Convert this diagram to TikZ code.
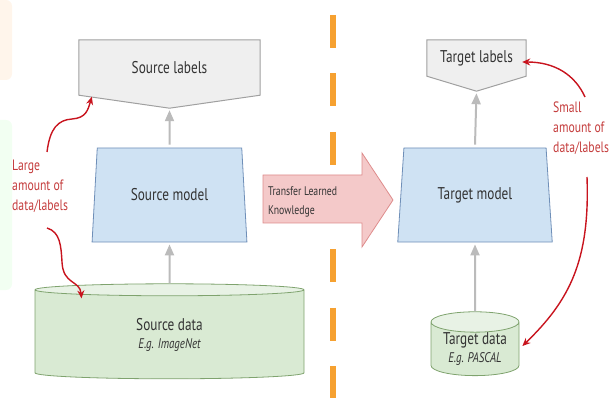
\documentclass[tikz,border=0pt]{standalone}
\usepackage{fontspec}
\setmainfont{PT Sans}[FakeStretch=0.78]
\usetikzlibrary{arrows.meta, shapes.geometric, calc, backgrounds, positioning}

\definecolor{txtdark}{HTML}{333333}
\definecolor{lblfill}{HTML}{EFEFEF}
\definecolor{lbldraw}{HTML}{A0A0A0}
\definecolor{mdlfill}{HTML}{CFE2F3}
\definecolor{mdldraw}{HTML}{6F8FB8}
\definecolor{datfill}{HTML}{D9EAD3}
\definecolor{datdraw}{HTML}{7FA36E}
\definecolor{feedgray}{HTML}{BBBBBB}
\definecolor{notered}{HTML}{C43C3C}
\definecolor{arrowred}{HTML}{C8141E}
\definecolor{xferfill}{HTML}{F4C9C9}
\definecolor{xferdraw}{HTML}{DE8C8C}
\definecolor{divorange}{HTML}{F6A131}

\begin{document}
\begin{tikzpicture}[x=1pt, y=-1pt, font=\fontsize{17}{20}\selectfont,
  lblnode/.style={inner sep=0pt, text=txtdark},
  lblshape/.style={fill=lblfill, draw=lbldraw, line width=1pt},
  mdlbox/.style={trapezium, trapezium left angle=81, trapezium right angle=81, trapezium stretches=true,
    fill=mdlfill, draw=mdldraw, line width=0.8pt, minimum width=155, minimum height=94, text=txtdark},
  datbox/.style={cylinder, shape border rotate=90, cylinder uses custom fill,
    cylinder body fill=datfill, cylinder end fill=datfill!60!white,
    draw=datdraw, line width=0.8pt, align=center, text=txtdark, inner sep=0pt},
  feed/.style={draw=feedgray, line width=2pt, -{Triangle[length=11pt,width=9pt]}, shorten >=2pt},
  note/.style={text=notered, align=left, font=\fontsize{15}{20}\selectfont, inner sep=0pt, anchor=north west},
  noteline/.style={draw=arrowred, line width=1.4pt, -{Stealth[length=8pt,width=7pt]}},
  divline/.style={draw=divorange, line width=6pt, dash pattern=on 33pt off 25.5pt},
  xfershape/.style={fill=xferfill, draw=xferdraw, line width=0.8pt, line join=miter},
  xfertext/.style={inner sep=0pt, anchor=west, align=left, text=txtdark, font=\fontsize{12.5}{19}\selectfont}
]
\useasboundingbox (0,0) rectangle (613,398);

% faint tabs on the left edge
\fill[rounded corners=6pt, color=orange!8] (-20,0) rectangle (12,80);
\fill[rounded corners=6pt, color=green!5] (-20,120) rectangle (12,290);

% divider between the two tasks
\coordinate (divtop) at (333,15);
\coordinate (divbot) at (333,398);
\draw[divline] (divtop) -- (divbot);

% source side
\node[lblnode, minimum width=181, minimum height=55] (srclbl) at (169.5,67.5) {Source labels};
\node[mdlbox] (srcmdl) at (169.5,195) {Source model};
\node[datbox, minimum width=269, minimum height=95, aspect=0.18] (srcdat) at (169.5,334.5)
  {Source data\\[-2pt]{\itshape\fontsize{14}{16}\selectfont E.g. ImageNet}};

% target side
\node[lblnode, minimum width=99, minimum height=36] (tgtlbl) at (476.5,58) {Target labels};
\node[mdlbox] (tgtmdl) at (475,195) {Target model};
\node[datbox, minimum width=88, minimum height=62, aspect=0.32] (tgtdat) at (475,349)
  {Target data\\[-2pt]{\itshape\fontsize{14}{16}\selectfont E.g. PASCAL}};

\begin{scope}[on background layer]
  \draw[lblshape] (srclbl.north west) -- (srclbl.north east) -- (srclbl.south east)
    -- ($(srclbl.south)+(0,13)$) -- (srclbl.south west) -- cycle;
  \draw[lblshape] (tgtlbl.north west) -- (tgtlbl.north east) -- (tgtlbl.south east)
    -- ($(tgtlbl.south)+(0,15)$) -- (tgtlbl.south west) -- cycle;
\end{scope}

% the big transfer arrow
\draw[xfershape] (263,175) -- (362,175) -- (362,153) -- (393,200)
  -- (362,247) -- (362,223) -- (263,223) -- cycle;
\node[xfertext] (xfer) at (268,202) {Transfer Learned\\Knowledge};

\draw[feed] (srcdat.north) -- (srcmdl.south);
\draw[feed] ($(srcmdl.north)+(0,-3)$) -- ($(srclbl.south)+(0,13)$);
\draw[feed] (tgtdat.north) -- (tgtmdl.south);
\draw[feed] ($(tgtmdl.north)+(0,-3)$) -- ($(tgtlbl.south)+(0,15)$);

% notes on how much data each side has
\node[note] (large) at (12,160) {Large\\amount of\\data/labels};
\node[note] (small) at (553,102) {Small\\amount of\\data/labels};

\coordinate (lgA) at (47,152);
\coordinate (lgB) at (47,228);
\coordinate (smA) at (585,97);
\coordinate (smB) at (587,177);

\draw[noteline] (lgA) .. controls (50,128) and (58,120) .. (72,119)
  .. controls (86,118) and (88,110) .. ($(srclbl.south west)+(13,1.5)$);
\draw[noteline] (lgB) .. controls (60,232) and (61,245) .. (62,262)
  .. controls (63,285) and (80,280) .. ($(srcdat.north)+(-88,15)$);
\draw[noteline] (smA) .. controls (575,75) and (555,62) .. ($(tgtlbl.east)+(-4,4)$);
\draw[noteline] (smB) .. controls (590,260) and (570,300) .. ($(tgtdat.east)+(3,-3)$);
\end{tikzpicture}
\end{document}
